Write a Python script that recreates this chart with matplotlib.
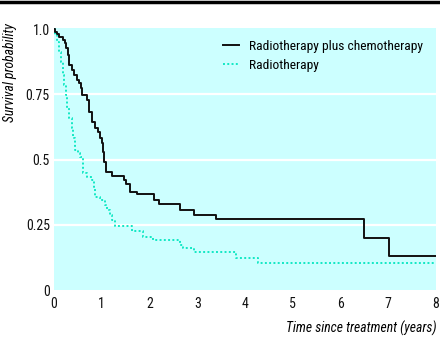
import matplotlib.pyplot as plt
from matplotlib.lines import Line2D

# Kaplan-Meier steps (time in years, survival after the step)
chemo_t = [0, 0.02, 0.06, 0.11, 0.18, 0.22, 0.25, 0.30, 0.32, 0.37, 0.42, 0.48,
           0.53, 0.56, 0.58, 0.69, 0.74, 0.79, 0.86, 0.93, 0.96, 1.00, 1.03, 1.05,
           1.09, 1.21, 1.47, 1.51, 1.59, 1.74, 2.09, 2.20, 2.64, 2.93, 3.39, 6.49,
           7.02, 8.0]
chemo_s = [1.0, 0.99, 0.98, 0.97, 0.958, 0.945, 0.926, 0.90, 0.862, 0.843, 0.824,
           0.805, 0.792, 0.773, 0.747, 0.728, 0.683, 0.645, 0.62, 0.607, 0.581,
           0.562, 0.53, 0.492, 0.453, 0.438, 0.42, 0.405, 0.377, 0.367, 0.345,
           0.328, 0.307, 0.287, 0.272, 0.20, 0.13, 0.13]

radio_t = [0, 0.02, 0.06, 0.11, 0.14, 0.18, 0.21, 0.25, 0.28, 0.32, 0.37, 0.40,
           0.44, 0.51, 0.55, 0.61, 0.70, 0.79, 0.84, 0.86, 0.96, 1.07, 1.10, 1.17,
           1.21, 1.28, 1.63, 1.87, 2.07, 2.64, 2.70, 2.93, 3.81, 4.27, 8.0]
radio_s = [1.0, 0.977, 0.951, 0.913, 0.875, 0.824, 0.785, 0.747, 0.696, 0.658,
           0.620, 0.581, 0.536, 0.524, 0.511, 0.447, 0.434, 0.421, 0.396, 0.357,
           0.345, 0.326, 0.307, 0.287, 0.268, 0.246, 0.226, 0.203, 0.19, 0.172,
           0.161, 0.144, 0.121, 0.105, 0.105]

xticks = [0, 1, 2, 3, 4, 5, 6, 7, 8]
yticks = [0, 0.25, 0.5, 0.75, 1.0]
yticklabels = ['0', '0.25', '0.5', '0.75', '1.0']

plt.rcParams['font.family'] = ['Roboto Condensed', 'DejaVu Sans']

fig = plt.figure(figsize=(4.4, 3.37), dpi=100)
ax = fig.add_axes([54 / 440, 1 - 290 / 337, 382 / 440, 262 / 337])
ax.set_facecolor('#ccffff')
for s in ax.spines.values():
    s.set_visible(False)

for y in [0.25, 0.5, 0.75]:
    ax.axhline(y, color='white', lw=1.6, zorder=1)

ax.step(chemo_t, chemo_s, where='post', color='#111111', lw=1.4, zorder=3,
        label='Radiotherapy plus chemotherapy')
ax.step(radio_t, radio_s, where='post', color='#11e8c4', lw=1.4,
        linestyle=(0, (1, 1.2)), zorder=2, label='Radiotherapy')

ax.set_xlim(0, 8)
ax.set_ylim(0, 1.004)
ax.set_xticks(xticks)
ax.set_yticks(yticks)
ax.set_yticklabels(yticklabels)
ax.tick_params(length=0, labelsize=10, colors='#111111')
ax.tick_params(axis='x', pad=5)
ax.tick_params(axis='y', pad=3)

ax.legend(loc='upper left', bbox_to_anchor=(223 / 440, 1 - 40 / 337),
          bbox_transform=fig.transFigure, frameon=False, fontsize=9.7,
          handlelength=1.2, handletextpad=0.7, labelspacing=0.45,
          borderaxespad=0, borderpad=0)

fig.text(10 / 440, 1 - 73 / 337, 'Survival probability', rotation=90,
         ha='center', va='center', style='italic', fontsize=9.8)
fig.text(437 / 440, 1 - 328 / 337, 'Time since treatment (years)',
         ha='right', va='center', style='italic', fontsize=9.8)

fig.add_artist(Line2D([0, 1], [1 - 1.5 / 337] * 2, color='black', lw=2.5,
                      transform=fig.transFigure))

fig.savefig('out.png', dpi=100)
